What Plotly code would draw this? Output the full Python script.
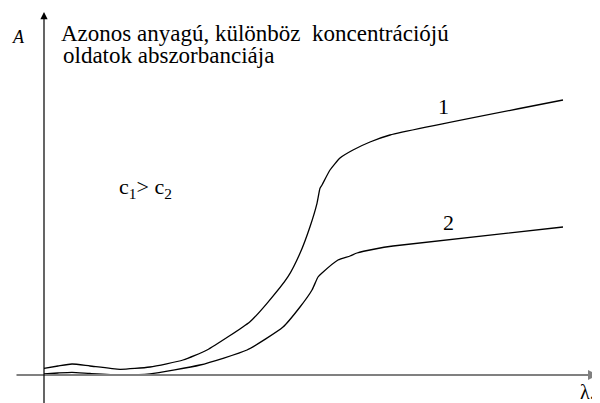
import plotly.graph_objects as go

# Absorbance curves (lambda, A in arbitrary units)
lam1 = [0, 14, 28, 46, 76, 106, 139, 163, 206, 223, 244, 256, 266, 273, 276, 278, 286, 296, 309, 326, 346, 519]
A1 = [6.7, 9, 11, 9, 5.7, 8, 15, 25, 53.3, 71.7, 98.3, 121.7, 148.3, 171.7, 186.7, 190, 205, 217, 225, 233, 240, 275]

lam2 = [0, 14, 28, 46, 76, 106, 156, 203, 239, 256, 268, 274, 278, 294, 306, 313, 331, 349, 519]
A2 = [1, 2, 2.7, 1.5, 0, 1, 10, 25, 48, 68, 85, 98, 102, 115, 119, 122, 126, 129, 148]

curve_labels = ["1", "2"]

serif = "Liberation Serif"

fig = go.Figure()
for lx, ly in [(lam1, A1), (lam2, A2)]:
    fig.add_trace(go.Scatter(
        x=lx, y=ly, mode="lines",
        line=dict(color="black", width=1.3, shape="spline", smoothing=0.5),
        hoverinfo="skip", showlegend=False,
    ))

annotations = [
    # x axis (gray) with arrow
    dict(x=554, y=0, ax=-29, ay=0, xref="x", yref="y", axref="x", ayref="y",
         text="", showarrow=True, arrowhead=2, arrowsize=1, arrowwidth=2,
         arrowcolor="#808080"),
    # y axis with arrow
    dict(x=0, y=363, ax=0, ay=-40, xref="x", yref="y", axref="x", ayref="y",
         text="", showarrow=True, arrowhead=2, arrowsize=1.2, arrowwidth=1.2,
         arrowcolor="black"),
    dict(x=-26, y=338, text="<i>A</i>", showarrow=False,
         font=dict(family=serif, size=18, color="black")),
    dict(x=543, y=-17, text="λ.", showarrow=False,
         font=dict(family=serif, size=20, color="black")),
    dict(x=15, y=342, text="Azonos anyagú, különböz  koncentrációjú", showarrow=False,
         xanchor="left", font=dict(family=serif, size=23, color="black")),
    dict(x=17, y=320, text="oldatok abszorbanciája", showarrow=False,
         xanchor="left", font=dict(family=serif, size=23, color="black")),
    dict(x=101, y=187, text="c<sub>1</sub>> c<sub>2</sub>", showarrow=False,
         font=dict(family=serif, size=22, color="black")),
    dict(x=399, y=269, text=curve_labels[0], showarrow=False,
         font=dict(family=serif, size=22, color="black")),
    dict(x=404, y=153, text=curve_labels[1], showarrow=False,
         font=dict(family=serif, size=22, color="black")),
]

# the page body adds an 8 px offset, so the ranges are shifted to compensate
fig.update_layout(
    width=600, height=403,
    margin=dict(l=0, r=0, t=0, b=0),
    paper_bgcolor="white", plot_bgcolor="white",
    xaxis=dict(visible=False, range=[-36, 564]),
    yaxis=dict(visible=False, range=[-36, 367]),
    annotations=annotations,
    showlegend=False,
)

fig.write_html("out.html")
